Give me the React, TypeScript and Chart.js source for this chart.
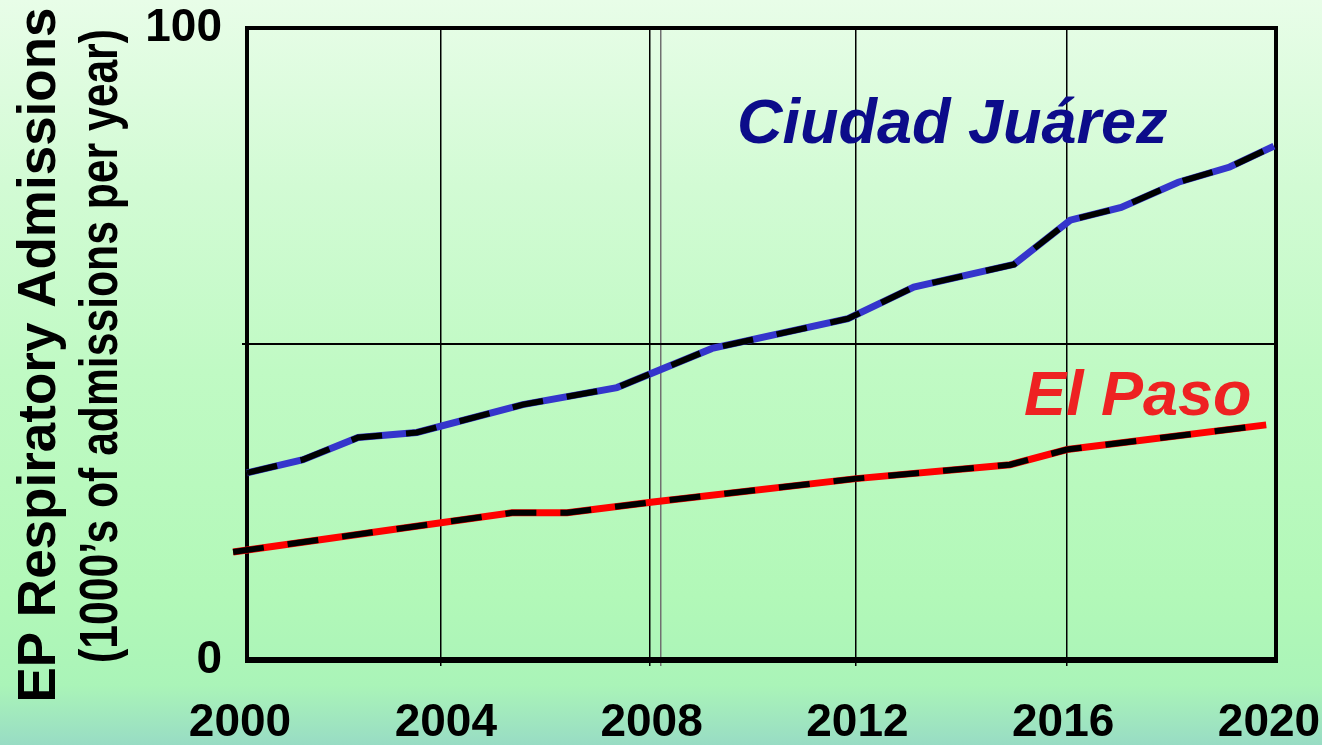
import React, { useEffect, useRef } from 'react';
import { Chart, registerables } from 'chart.js';

Chart.register(...registerables);

// ---- data ----
const xTickYears = [2000, 2004, 2008, 2012, 2016, 2020];
const gridYears = [2003.77, 2007.83, 2008.04, 2011.84, 2015.94];
const yTickValues = [0, 50, 100];

const juarezYears = [2000.0, 2001.09, 2002.16, 2003.3, 2005.36, 2007.19, 2009.04, 2011.68, 2012.96, 2014.91, 2016.0, 2016.99, 2018.1, 2019.1, 2019.96];
const juarezValues = [29.6, 31.7, 35.2, 36.0, 40.4, 43.1, 49.3, 54.0, 59.0, 62.6, 69.6, 71.6, 75.6, 78.0, 81.3];

const elPasoYears = [1999.73, 2005.15, 2006.22, 2007.89, 2011.84, 2014.83, 2015.94, 2019.81];
const elPasoValues = [17.1, 23.3, 23.3, 25.0, 28.7, 30.9, 33.3, 37.2];

const seriesLabels = ['Ciudad Juárez', 'El Paso'];
const yTitle = 'EP Respiratory Admissions';
const ySubTitle = '(1000’s of admissions per year)';

const FONT = '"Liberation Sans", Arial, Helvetica, sans-serif';

const toXY = (xs: number[], ys: number[]) => xs.map((x, i) => ({ x, y: ys[i] }));

const decorPlugin = {
  id: 'decor',
  beforeDatasetsDraw(chart: any) {
    const { ctx, chartArea: a } = chart;
    ctx.save();
    ctx.strokeStyle = '#000';
    ctx.lineWidth = 4;
    ctx.strokeRect(a.left, a.top, a.right - a.left, a.bottom - a.top);
    ctx.lineWidth = 6;
    ctx.beginPath();
    ctx.moveTo(a.left - 2, a.bottom);
    ctx.lineTo(a.right + 2, a.bottom);
    ctx.stroke();
    ctx.restore();
  },
  afterDraw(chart: any) {
    const { ctx } = chart;
    ctx.save();
    ctx.fillStyle = '#000';
    // main y title
    ctx.save();
    ctx.translate(55, 355);
    ctx.rotate(-Math.PI / 2);
    ctx.font = `bold 53px ${FONT}`;
    ctx.textAlign = 'center';
    ctx.textBaseline = 'alphabetic';
    ctx.fillText(yTitle, 0, 0);
    ctx.restore();
    // sub title (narrow)
    ctx.save();
    ctx.translate(117, 346);
    ctx.rotate(-Math.PI / 2);
    ctx.scale(0.79, 1);
    ctx.font = `bold 54px ${FONT}`;
    ctx.textAlign = 'center';
    ctx.textBaseline = 'alphabetic';
    ctx.fillText(ySubTitle, 0, 0);
    ctx.restore();
    // series annotations
    ctx.font = `italic bold 63px ${FONT}`;
    ctx.textAlign = 'left';
    ctx.textBaseline = 'alphabetic';
    ctx.fillStyle = '#0c0c8a';
    ctx.fillText(seriesLabels[0], 737, 143);
    ctx.fillStyle = '#ee2222';
    ctx.fillText(seriesLabels[1], 1024, 415);
    ctx.restore();
  },
};

const noPadX = (s: any, h: number) => {
  s.height = h;
  s.paddingLeft = 0;
  s.paddingRight = 0;
};

export default function App() {
  const ref = useRef<HTMLCanvasElement | null>(null);

  useEffect(() => {
    if (!ref.current) return;
    const juarez = toXY(juarezYears, juarezValues);
    const elPaso = toXY(elPasoYears, elPasoValues);
    const chart = new Chart(ref.current, {
      type: 'line',
      data: {
        datasets: [
          { label: seriesLabels[0] + ' dash', data: juarez, borderColor: '#000', borderWidth: 6, borderDash: [31, 24], pointRadius: 0, tension: 0, clip: false, order: 1 } as any,
          { label: seriesLabels[1] + ' dash', data: elPaso, borderColor: '#000', borderWidth: 6, borderDash: [31, 24], pointRadius: 0, tension: 0, clip: false, order: 1 } as any,
          { label: seriesLabels[0], data: juarez, borderColor: '#3535cc', borderWidth: 7, pointRadius: 0, tension: 0, clip: false, order: 2 } as any,
          { label: seriesLabels[1], data: elPaso, borderColor: '#ff0000', borderWidth: 7, pointRadius: 0, tension: 0, clip: false, order: 2 } as any,
        ],
      },
      options: {
        animation: false,
        responsive: true,
        maintainAspectRatio: false,
        layout: { padding: { top: 28, right: 46, left: 0, bottom: 0 } },
        plugins: { legend: { display: false }, tooltip: { enabled: false }, title: { display: false } },
        scales: {
          x: {
            type: 'linear',
            position: 'bottom',
            min: 2000,
            max: 2020,
            weight: 1,
            afterBuildTicks: (s: any) => { s.ticks = xTickYears.map((v) => ({ value: v })); },
            afterFit: (s: any) => noPadX(s, 85),
            ticks: {
              font: { family: FONT, size: 46, weight: 'bold' },
              color: '#000',
              padding: 36,
              labelOffset: -7,
              maxRotation: 0,
              autoSkip: false,
              callback: (v: any) => String(v),
            },
            grid: { display: false, drawTicks: false },
            border: { display: false },
          },
          xg: {
            type: 'linear',
            position: 'bottom',
            min: 2000,
            max: 2020,
            weight: 0,
            afterBuildTicks: (s: any) => { s.ticks = gridYears.map((v) => ({ value: v })); },
            afterFit: (s: any) => noPadX(s, 0),
            ticks: { display: false },
            grid: {
              color: (c: any) => (c.index === 2 ? '#707070' : '#000'),
              tickColor: (c: any) => (c.index === 2 ? '#707070' : '#000'),
              lineWidth: 1.5,
              drawTicks: true,
              tickLength: 6,
            },
            border: { display: false },
          },
          y: {
            type: 'linear',
            position: 'left',
            min: 0,
            max: 100,
            afterBuildTicks: (s: any) => { s.ticks = yTickValues.map((v) => ({ value: v })); },
            afterFit: (s: any) => {
              s.width = 247;
              s.paddingTop = 0;
              s.paddingBottom = 0;
            },
            ticks: {
              font: { family: FONT, size: 46, weight: 'bold' },
              color: '#000',
              padding: 20,
              callback: (v: any) => (v === 50 ? '' : String(v)),
            },
            grid: {
              color: (c: any) => (c.tick && c.tick.value === 50 ? '#000' : 'rgba(0,0,0,0)'),
              tickColor: (c: any) => (c.tick && c.tick.value === 50 ? '#000' : 'rgba(0,0,0,0)'),
              lineWidth: 2,
              drawTicks: true,
              tickLength: 5,
            },
            border: { display: false },
          },
        },
      } as any,
      plugins: [decorPlugin],
    });
    return () => chart.destroy();
  }, []);

  return (
    <div
      style={{
        position: 'fixed',
        left: 0,
        top: 0,
        width: 1322,
        height: 745,
        background: 'linear-gradient(to bottom, #e8fde8 0%, #d2fbd4 25%, #c0fac4 50%, #b2f8b8 80%, #aaf4b8 92%, #98dcc4 100%)',
      }}
    >
      <canvas ref={ref} />
    </div>
  );
}
